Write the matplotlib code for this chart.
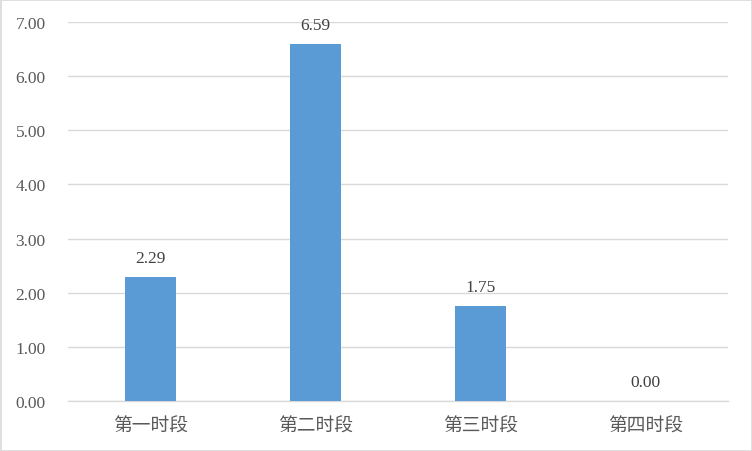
import matplotlib
matplotlib.use("Agg")
import matplotlib.pyplot as plt
from matplotlib.patches import Rectangle

categories = ["第一时段", "第二时段", "第三时段", "第四时段"]
values = [2.29, 6.59, 1.75, 0.00]
yticks = [0, 1, 2, 3, 4, 5, 6, 7]

fig = plt.figure(figsize=(7.52, 4.52), dpi=100)
ax = fig.add_axes([68/752, 50/452, 660/752, 379/452])

x = list(range(len(categories)))
bars = ax.bar(x, values, width=0.31, color="#5B9BD5", zorder=3)
ax.set_xlim(-0.5, 3.5)
ax.set_ylim(0, 7)
ax.set_yticks(yticks)
ax.set_yticklabels([f"{v:.2f}" for v in yticks], fontfamily="Liberation Serif",
                   fontsize=12.5, color="#595959")
ax.set_xticks(x)
ax.set_xticklabels(categories, fontfamily=["Noto Sans CJK SC", "DejaVu Sans"],
                   fontsize=13.5, color="#595959")
ax.tick_params(axis="both", length=0)
ax.tick_params(axis="y", pad=16)
ax.tick_params(axis="x", pad=10)
ax.grid(axis="y", color="#D9D9D9", linewidth=1, zorder=0)
for s in ["top", "right", "left"]:
    ax.spines[s].set_visible(False)
ax.spines["bottom"].set_color("#D9D9D9")
ax.spines["bottom"].set_linewidth(1)

for xi, v in zip(x, values):
    ax.annotate(f"{v:.2f}", (xi, v), xytext=(0, 8), textcoords="offset points",
                ha="center", va="bottom", fontfamily="Liberation Serif",
                fontsize=12.5, color="#404040")

fig.patches.append(Rectangle((0.5/752, 0.5/452), 751/752, 451/452, transform=fig.transFigure,
                             fill=False, edgecolor="#D9D9D9", linewidth=1.2))
fig.savefig("out.png", dpi=100)
